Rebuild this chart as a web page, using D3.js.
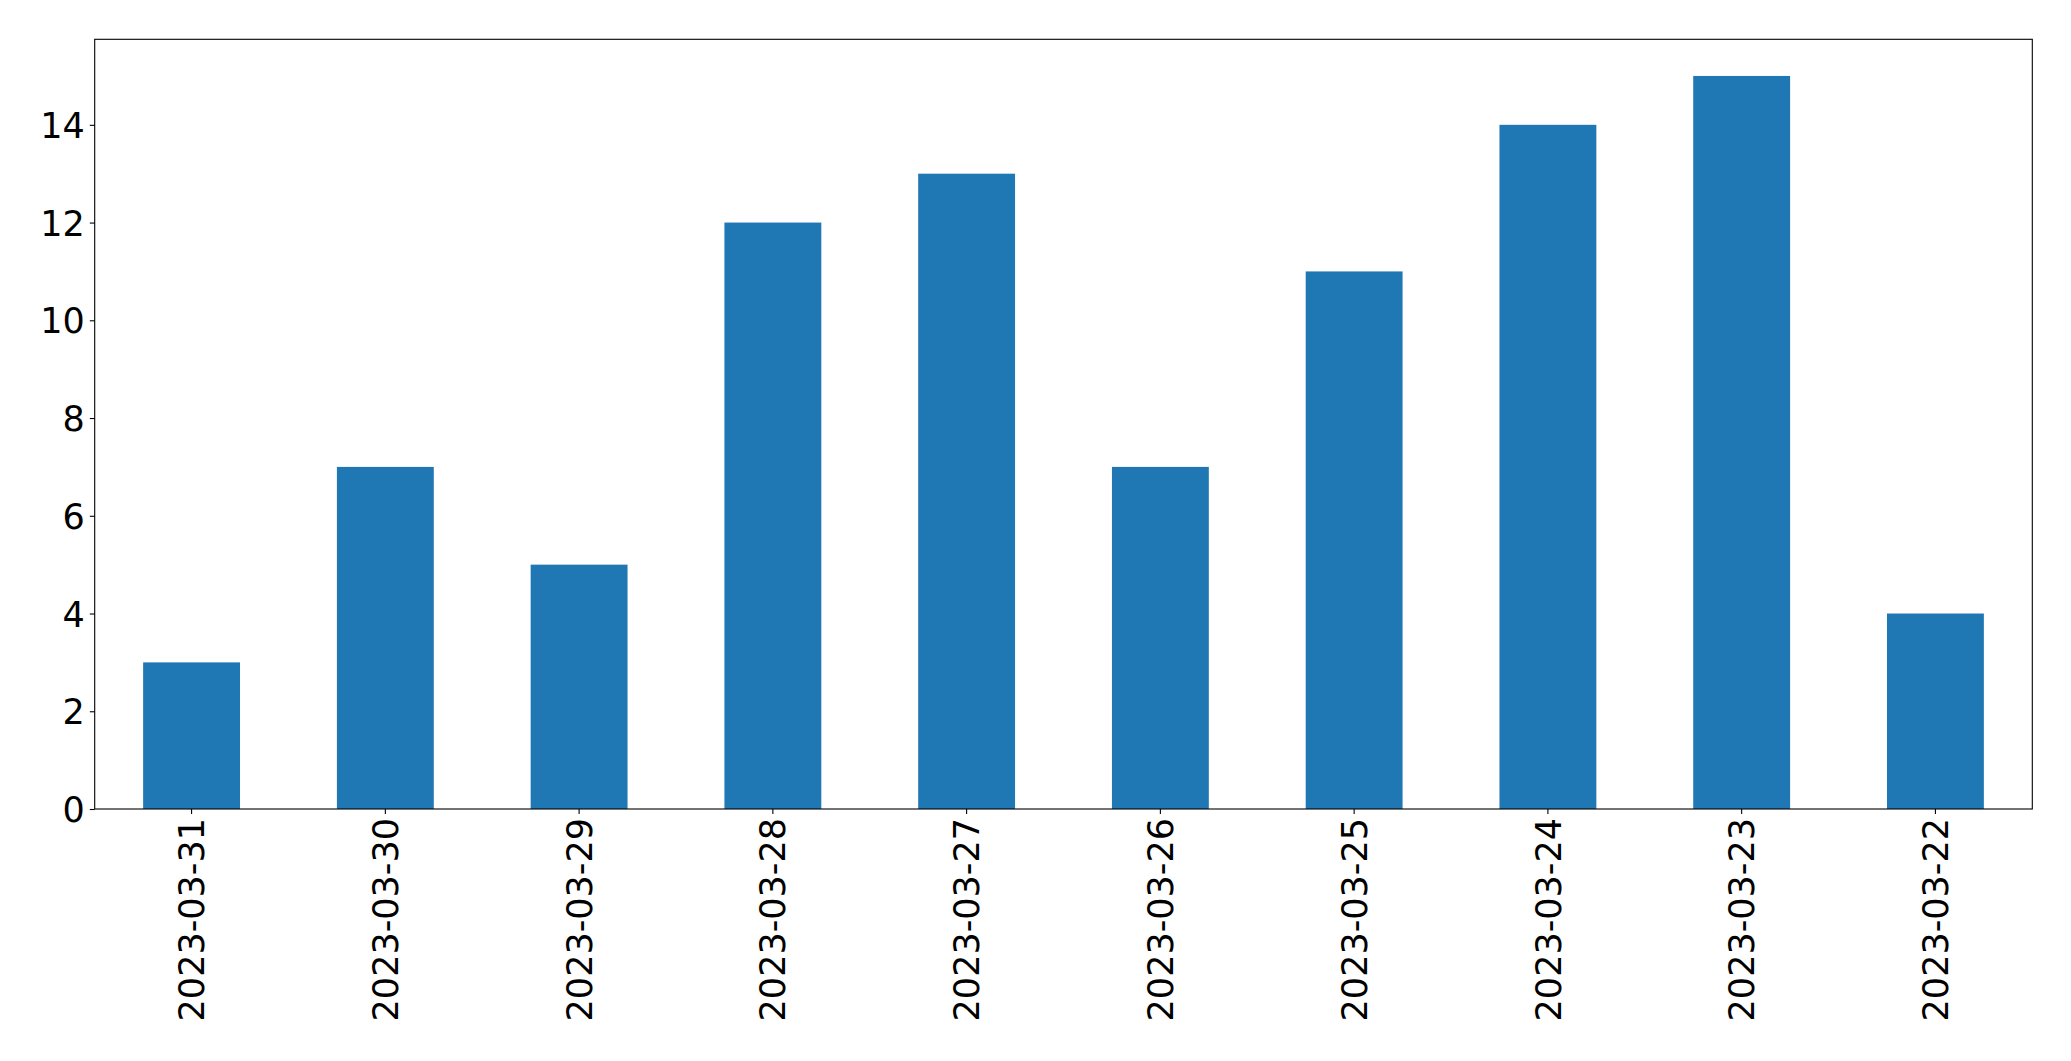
<!DOCTYPE html>
<html><head><meta charset="utf-8">
<script src="https://cdn.jsdelivr.net/npm/d3@7"></script>
<style>html,body{margin:0;padding:0;background:#fff;} svg{display:block;}</style>
</head><body>
<script>
const categories = ["2023-03-31","2023-03-30","2023-03-29","2023-03-28","2023-03-27","2023-03-26","2023-03-25","2023-03-24","2023-03-23","2023-03-22"];
const values = [3,7,5,12,13,7,11,14,15,4];
const yTicks = [0,2,4,6,8,10,12,14];

(function () {
const W = 2071, H = 1061;
const mLeft = 94.7, mRight = 2032.3, mTop = 39.3, mBottom = 809;
const fs = 35;

const svg = d3.select("body").append("svg").attr("width", W).attr("height", H);

const x = d3.scaleBand().domain(categories).range([mLeft, mRight]).paddingInner(0.5).paddingOuter(0.25);
const y = d3.scaleLinear().domain([0, d3.max(values) * 1.05]).range([mBottom, mTop]);

svg.append("g").selectAll("rect").data(values).join("rect")
  .attr("x", (d, i) => x(categories[i]))
  .attr("width", x.bandwidth())
  .attr("y", d => y(d))
  .attr("height", d => y(0) - y(d))
  .attr("fill", "#1f77b4");

const yAxis = svg.append("g").attr("transform", `translate(${mLeft},0)`)
  .call(d3.axisLeft(y).tickValues(yTicks).tickSize(4.9).tickPadding(4.9).tickFormat(d3.format("d")));
yAxis.select(".domain").remove();
yAxis.selectAll("line").attr("stroke", "#000").attr("stroke-width", 1.1);
yAxis.selectAll("text").attr("font-family", "DejaVu Sans").attr("font-size", fs).attr("fill", "#000").attr("dy", "0.36em");

const xAxis = svg.append("g").attr("transform", `translate(0,${mBottom})`)
  .call(d3.axisBottom(x).tickSize(4.9).tickPadding(4.9));
xAxis.select(".domain").remove();
xAxis.selectAll("line").attr("stroke", "#000").attr("stroke-width", 1.1);
xAxis.selectAll("text")
  .attr("font-family", "DejaVu Sans").attr("font-size", fs).attr("fill", "#000")
  .attr("text-anchor", "end")
  .attr("transform", "rotate(-90)")
  .attr("x", -9).attr("y", 0).attr("dy", "0.36em");

svg.append("rect").attr("x", mLeft).attr("y", mTop).attr("width", mRight - mLeft).attr("height", mBottom - mTop)
  .attr("fill", "none").attr("stroke", "#000").attr("stroke-width", 1.1);
})();
</script>
</body></html>
